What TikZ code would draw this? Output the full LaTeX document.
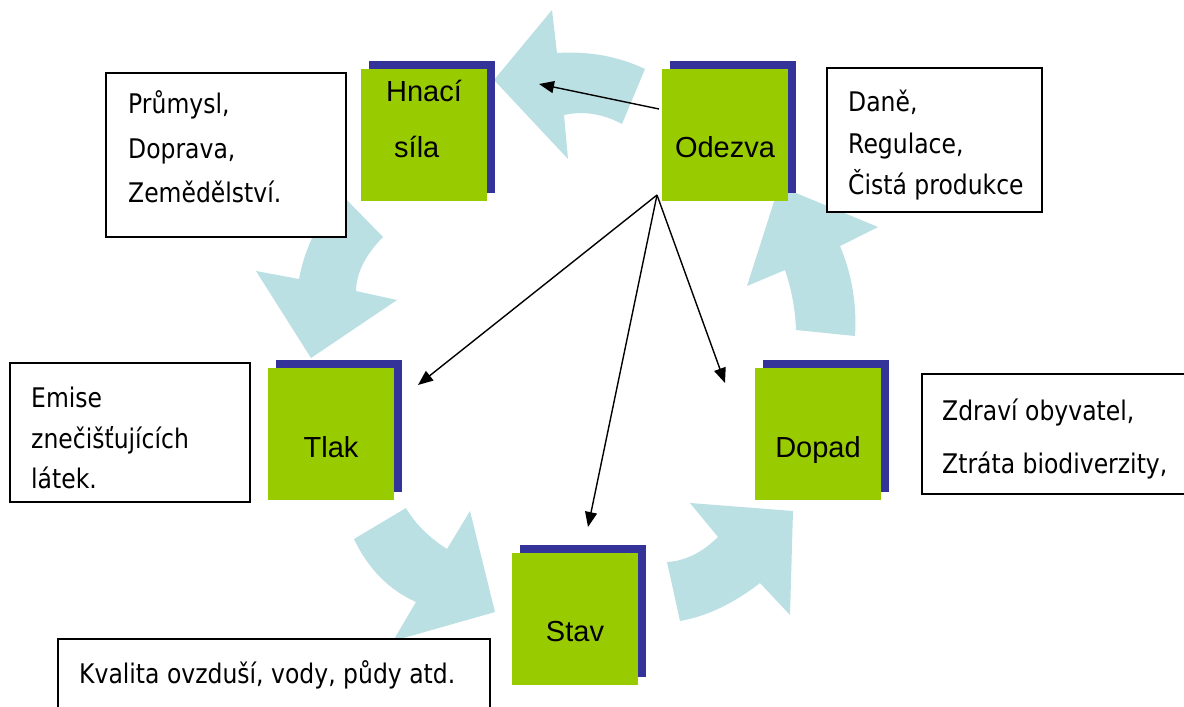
\documentclass[tikz,border=0pt]{standalone}
\usepackage{fontspec}
\setmainfont{Liberation Sans}
\newfontfamily\tah[FakeStretch=0.87]{DejaVu Sans}
\usetikzlibrary{arrows.meta}
\definecolor{cyc}{HTML}{BBE0E3}
\definecolor{grn}{HTML}{99CC00}
\definecolor{blu}{HTML}{333399}
\begin{document}
\begin{tikzpicture}[x=1pt,y=-1pt,
  cycarrow/.style={fill=cyc,draw=none},
  shadowsq/.style={fill=blu,draw=none,inner sep=0,minimum width=126pt,minimum height=132pt,anchor=north west},
  greensq/.style={fill=grn,draw=none,inner sep=0,minimum width=126pt,minimum height=132pt,anchor=north west},
  infobox/.style={draw=black,line width=1.8pt,fill=white},
  gtext/.style={font=\fontsize{29}{34}\selectfont,anchor=base,inner sep=0},
  btext/.style={font=\tah\fontsize{27}{32}\selectfont,anchor=base west,inner sep=0},
  conn/.style={line width=1.4pt,-{Triangle[length=15pt,width=12pt]}}]
\useasboundingbox (0,0) rectangle (1184,707);
\fill[white] (0,0) rectangle (1184,707);

% cycle arrows
\fill[cycarrow] (645,69) .. controls (618.3,56.3) and (589,51) .. (557,53) -- (552,10) -- (494,80) -- (568,159) -- (564,115) .. controls (583.3,110.7) and (602.7,113.7) .. (622,124) -- cycle;
\fill[cycarrow] (341,194) -- (383,237) .. controls (365.3,255) and (356.3,273) .. (356,291) -- (397,300) -- (311,358) -- (256,271) -- (299,279) .. controls (305,247.3) and (319,219) .. (341,194) -- cycle;
\fill[cycarrow] (354,539) -- (406,508) .. controls (415,523.7) and (428.7,537.3) .. (447,549) -- (470,511) -- (495,612) -- (393,641) -- (416,602) .. controls (388.7,589.7) and (368,568.7) .. (354,539) -- cycle;
\fill[cycarrow] (667,562) .. controls (685,561) and (702,552.7) .. (718,537) -- (690,503) -- (793,511) -- (790,615) -- (760,583) .. controls (733.3,603.7) and (706.7,616.3) .. (680,621) -- cycle;
\fill[cycarrow] (796,330) -- (855,336) .. controls (857,304.7) and (852,274.7) .. (840,246) -- (878,227) -- (779,186) -- (747,286) -- (785,270) .. controls (791.7,290) and (795.3,310) .. (796,330) -- cycle;

% squares
\node[shadowsq] (hnS) at (369,61) {};
\node[greensq] (hn) at (361,69) {};
\node[shadowsq] (odS) at (670,61) {};
\node[greensq] (od) at (662,69) {};
\node[shadowsq] (tlS) at (276,360) {};
\node[greensq] (tl) at (268,368) {};
\node[shadowsq] (stS) at (520,545) {};
\node[greensq] (st) at (512,553) {};
\node[shadowsq] (dpS) at (763,360) {};
\node[greensq] (dp) at (755,368) {};

\node[gtext] (hnT1) at (424,101) {Hnací};
\node[gtext,anchor=base west] (hnT2) at (394,157) {síla};
\node[gtext] (odT) at (725,157) {Odezva};
\node[gtext] (tlT) at (331,457) {Tlak};
\node[gtext] (stT) at (575,641) {Stav};
\node[gtext] (dpT) at (818,457) {Dopad};

% info boxes
\draw[infobox] (106,73) rectangle (346,237);
\node[btext] (p1) at (128,113) {Průmysl,};
\node[btext] (p2) at (128,158) {Doprava,};
\node[btext] (p3) at (128,202) {Zemědělství.};

\draw[infobox] (827,68) rectangle (1042,212);
\node[btext] (r1) at (848,111) {Daně,};
\node[btext] (r2) at (848,153) {Regulace,};
\node[btext] (r3) at (848,194) {Čistá produkce};

\draw[infobox] (10,363) rectangle (250,502);
\node[btext] (e1) at (31,407) {Emise};
\node[btext] (e2) at (31,448) {znečišťujících};
\node[btext] (e3) at (31,488) {látek.};

\draw[infobox] (922,374) rectangle (1195,494);
\node[btext] (z1) at (942,420) {Zdraví obyvatel,};
\node[btext] (z2) at (942,473) {Ztráta biodiverzity,};

\draw[infobox] (58,639) rectangle (490,720);
\node[btext] (k1) at (79,683) {Kvalita ovzduší, vody, půdy atd.};

% connectors
\coordinate (o1) at (659,109);
\coordinate (h1) at (539,84);
\coordinate (o2) at (657,195);
\coordinate (tTl) at (418,385);
\coordinate (tSt) at (588,527);
\coordinate (tDp) at (725,383);
\draw[conn] (o1) -- (h1);
\draw[conn] (o2) -- (tTl);
\draw[conn] (o2) -- (tSt);
\draw[conn] (o2) -- (tDp);
\end{tikzpicture}
\end{document}
